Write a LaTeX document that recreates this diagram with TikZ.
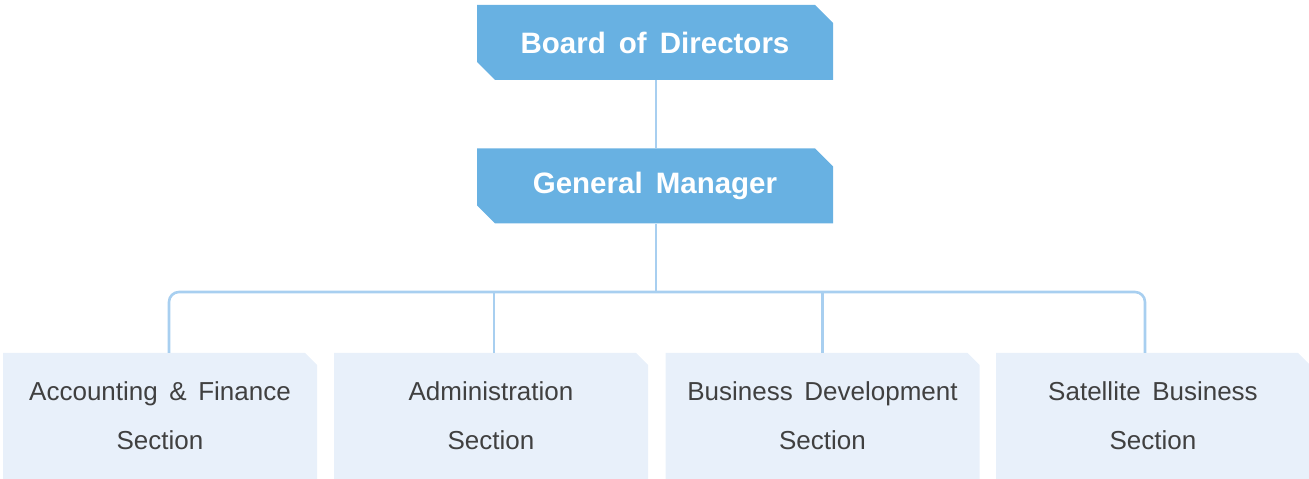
\documentclass[tikz,border=0pt]{standalone}
\usepackage{fontspec}
\setmainfont[WordSpace=1.6]{Liberation Sans}
\usetikzlibrary{shapes.misc,calc}
\definecolor{topblue}{HTML}{68B1E2}
\definecolor{lightbox}{HTML}{E8F0FA}
\definecolor{linecol}{HTML}{A8CFF0}
\definecolor{txt}{HTML}{404040}
\tikzset{
  topbox/.style={chamfered rectangle, chamfered rectangle corners={north east,south west},
    chamfered rectangle xsep=9pt, chamfered rectangle ysep=9pt,
    fill=topblue, text=white, minimum width=356pt, minimum height=75pt, inner sep=0pt,
    font=\fontsize{29.5}{32}\selectfont\bfseries},
  secbox/.style={chamfered rectangle, chamfered rectangle corners={north east},
    chamfered rectangle xsep=6pt, chamfered rectangle ysep=6pt,
    fill=lightbox, text=txt, minimum width=314pt, minimum height=126pt, inner sep=0pt,
    align=center, font=\fontsize{26}{49}\selectfont},
  conn/.style={draw=linecol, line width=2.6pt}
}
\begin{document}
\begin{tikzpicture}[x=1pt,y=1pt]
\useasboundingbox (0,0) rectangle (1309,479);
\node[topbox] (bod) at (655,436.5) {Board of Directors};
\node[topbox] (gm) at (655,293) {General Manager};
\node[secbox] (s1) at (160,63) {Accounting \& Finance\\Section};
\node[secbox] (s2) at (491,63) {Administration\\Section};
\node[secbox] (s3) at (822.5,63) {Business Development\\Section};
\node[secbox] (s4) at (1153,63) {Satellite Business\\Section};
\coordinate (bus) at (656,187);
\draw[conn] ([xshift=1pt]bod.south) -- ([xshift=1pt]gm.north);
\draw[conn] ([xshift=1pt]gm.south) -- (bus);
\draw[conn, rounded corners=10pt] ([xshift=9pt]s1.north) |- (bus) -| ([xshift=-8pt]s4.north);
\draw[conn] ([xshift=3pt]s2.north) -- ([xshift=3pt]s2.north |- bus);
\draw[conn] (s3.north) -- (s3.north |- bus);
\end{tikzpicture}
\end{document}
